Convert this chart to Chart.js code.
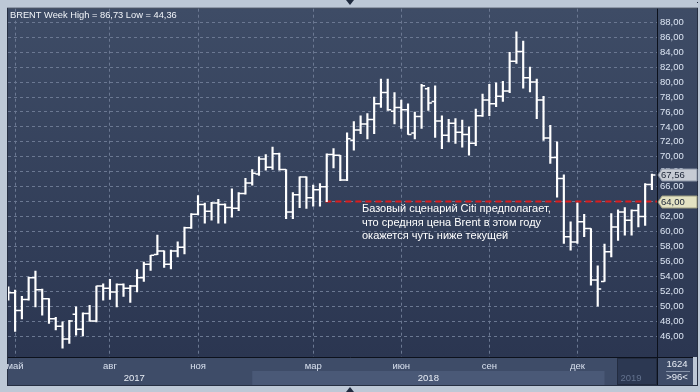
<!DOCTYPE html>
<html>
<head>
<meta charset="utf-8">
<script src="https://cdn.jsdelivr.net/npm/chart.js@4.4.1/dist/chart.umd.min.js"></script>
<style>
  html, body { margin: 0; padding: 0; background: #bdc8d6; }
  canvas { display: block; }
</style>
</head>
<body>
<canvas id="chart" width="700" height="392"></canvas>
<script>
// Weekly Brent OHLC, week 0 = 24.04.2017 ... week 95 = 18.02.2019
const opens = [
  52.0, 51.8, 49.4, 50.9, 53.8, 52.2, 51.0, 48.3, 47.3, 45.6,
  48.9, 46.9, 49.0, 48.0, 52.7, 52.4, 51.9, 52.9, 52.4, 52.7,
  53.8, 55.6, 56.9, 57.4, 55.6, 57.4, 57.9, 60.5, 62.3, 63.6,
  62.7, 63.8, 63.6, 63.2, 63.1, 65.1, 66.5, 67.7, 69.7, 68.6,
  70.4, 68.3, 62.6, 64.9, 67.3, 64.5, 65.6, 66.0, 70.3, 70.2,
  66.9, 72.2, 73.6, 74.4, 75.0, 77.1, 78.6, 76.1, 76.6, 76.3,
  73.2, 75.4, 79.1, 77.4, 74.8, 72.9, 74.5, 73.3, 73.0, 71.8,
  75.5, 77.6, 77.1, 78.1, 78.8, 82.8, 84.1, 80.6, 80.0, 77.6,
  72.5, 69.9, 67.1, 59.3, 58.6, 61.3, 60.4, 53.5, 53.3, 57.3,
  60.6, 62.6, 61.5, 62.8, 62.0, 66.3
];
const highs = [
  52.6, 52.15, 51.3, 53.9, 54.7, 52.3, 51.0, 48.5, 47.9, 48.1,
  49.9, 49.1, 50.1, 52.7, 53.0, 53.6, 53.0, 53.0, 52.8, 54.9,
  55.9, 56.8, 59.5, 57.4, 57.5, 58.6, 60.6, 62.4, 64.8, 63.8,
  63.9, 64.3, 63.7, 65.7, 65.2, 67.1, 68.3, 70.0, 70.3, 71.3,
  70.5, 68.3, 65.2, 67.3, 67.3, 66.2, 66.4, 70.4, 71.1, 70.2,
  73.2, 74.7, 75.5, 75.8, 78.0, 80.4, 80.4, 78.6, 77.6, 77.1,
  76.0, 79.7, 79.3, 79.5, 75.5, 75.0, 75.1, 74.9, 74.0, 76.4,
  78.4, 79.7, 79.9, 80.1, 84.0, 86.73, 85.5, 82.0, 80.4, 78.1,
  74.2, 72.0, 67.6, 61.3, 63.8, 62.3, 60.4, 55.4, 58.3, 62.4,
  62.9, 63.2, 62.9, 63.65, 66.4, 67.7
];
const lows = [
  50.8, 46.6, 48.3, 50.8, 49.9, 48.8, 47.7, 46.8, 44.36, 45.0,
  46.1, 46.0, 48.0, 47.9, 50.8, 50.9, 49.9, 51.3, 50.5, 51.9,
  53.3, 54.8, 56.9, 55.2, 55.0, 56.6, 57.0, 60.4, 62.2, 61.1,
  61.5, 61.1, 61.1, 61.9, 62.8, 65.0, 66.2, 67.5, 68.2, 68.3,
  68.2, 61.7, 61.7, 63.2, 63.1, 63.4, 63.4, 64.0, 68.5, 66.8,
  66.8, 70.9, 73.1, 72.4, 73.1, 76.6, 76.2, 74.4, 73.8, 73.0,
  72.4, 73.8, 76.2, 72.6, 71.1, 72.0, 71.8, 71.3, 70.2, 71.5,
  75.4, 75.5, 76.7, 77.4, 78.6, 82.5, 79.2, 78.7, 75.1, 72.2,
  69.1, 64.6, 58.4, 57.5, 58.4, 59.3, 52.8, 50.0, 53.3, 56.6,
  58.8, 59.5, 59.5, 60.6, 60.8, 65.6
];
const closes = [
  51.8, 49.4, 50.9, 53.8, 52.2, 51.0, 48.3, 47.3, 45.6, 48.0,
  46.9, 49.0, 48.0, 52.7, 52.4, 51.9, 52.9, 52.4, 52.7, 53.8,
  55.6, 56.8, 57.4, 55.6, 57.4, 57.9, 60.5, 62.3, 63.6, 62.7,
  63.8, 63.6, 63.2, 63.1, 65.1, 66.5, 67.8, 69.7, 68.6, 70.4,
  68.3, 62.6, 64.9, 67.3, 64.5, 65.6, 66.0, 70.3, 70.2, 66.9,
  72.4, 73.6, 74.4, 75.0, 77.1, 78.6, 76.3, 76.6, 76.3, 73.0,
  75.4, 79.5, 77.2, 74.8, 72.9, 74.5, 73.3, 73.0, 71.8, 75.5,
  77.6, 77.1, 78.1, 78.8, 82.8, 84.1, 80.6, 80.0, 77.6, 72.5,
  69.9, 67.1, 59.3, 58.6, 61.3, 60.4, 53.5, 52.3, 57.3, 60.6,
  62.6, 61.5, 62.8, 62.0, 66.3, 67.56
];

// axis labels
const monthTickIdx = [1, 15, 28, 45, 58, 71, 84];
const monthTickText = ['май', 'авг', 'ноя', 'мар', 'июн', 'сен', 'дек'];
const yearText = ['2017', '2018', '2019'];
const yearStartIdx = [0, 36, 88];
const priceTicks = [46, 48, 50, 52, 54, 56, 58, 60, 62, 64, 66, 68, 70, 72, 74, 76, 78, 80, 82, 84, 86, 88];

const lastPrice = 67.56;
const citiLevel = 64;
const citiFromIdx = 46.8;
const titleText = 'BRENT Week High = 86,73 Low = 44,36';
const noteLines = [
  'Базовый сценарий Citi предполагает,',
  'что средняя цена Brent в этом году',
  'окажется чуть ниже текущей'
];
const noteIdx = 52.2, noteValue = 62.55;
const barCount = '1624', visibleBars = '>96<';

const FONT = '"Liberation Sans", Arial, sans-serif';
const GRID = '#6b7892';
const fmt = v => v.toFixed(2).replace('.', ',');

Chart.defaults.font.family = FONT;

// backgrounds, year band
const framePlugin = {
  id: 'frame',
  beforeDraw(chart) {
    const { ctx, chartArea: a, scales: { x } } = chart;
    ctx.save();
    ctx.fillStyle = '#bdc8d6';
    ctx.fillRect(0, 0, chart.width, chart.height);

    const g = ctx.createLinearGradient(0, a.top, 0, a.bottom);
    g.addColorStop(0, '#3e4c66');
    g.addColorStop(1, '#2b3651');
    ctx.fillStyle = g;
    ctx.fillRect(a.left, a.top, 697 - a.left, a.bottom - a.top);

    // time axis band
    ctx.fillStyle = '#3e4c68';
    ctx.fillRect(a.left, a.bottom, 693 - a.left, 28);
    const x18 = x.getPixelForValue(yearStartIdx[1]);
    const x19 = x.getPixelForValue(yearStartIdx[2]);
    ctx.fillStyle = '#4a5977';
    ctx.fillRect(x18, a.bottom + 14, x19 - x18, 14);

    // 2019 scroll box
    ctx.fillStyle = '#2c3852';
    ctx.fillRect(617, a.bottom + 1, a.right - 617, 27);
    ctx.strokeStyle = '#232c40';
    ctx.lineWidth = 1;
    ctx.strokeRect(617.5, a.bottom + 1.5, a.right - 618, 26);

    // outer dark border
    ctx.strokeStyle = '#262f42';
    ctx.strokeRect(a.left - 0.5, a.top - 0.5, 697 - a.left + 1, a.bottom + 28 - a.top + 1);
    ctx.restore();
  }
};

// open / close ticks of each weekly bar
const ohlcPlugin = {
  id: 'ohlc',
  afterDatasetsDraw(chart) {
    const { ctx, chartArea: a, scales: { x, y } } = chart;
    ctx.save();
    ctx.beginPath();
    ctx.rect(a.left, a.top, a.right - a.left, a.bottom - a.top);
    ctx.clip();
    ctx.strokeStyle = '#ffffff';
    ctx.lineWidth = 1.5;
    ctx.beginPath();
    for (let i = 0; i < opens.length; i++) {
      const px = x.getPixelForValue(i);
      const yo = y.getPixelForValue(opens[i]);
      const yc = y.getPixelForValue(closes[i]);
      ctx.moveTo(px - 3.5, yo); ctx.lineTo(px, yo);
      ctx.moveTo(px, yc); ctx.lineTo(px + 3.5, yc);
    }
    ctx.stroke();
    ctx.restore();
  }
};

// texts, separators, price boxes
const overlayPlugin = {
  id: 'overlay',
  afterDraw(chart) {
    const { ctx, chartArea: a, scales: { x, y } } = chart;
    ctx.save();

    // separators
    ctx.strokeStyle = '#0c111c';
    ctx.lineWidth = 1;
    ctx.beginPath();
    ctx.moveTo(a.right + 0.5, a.top); ctx.lineTo(a.right + 0.5, a.bottom + 28);
    ctx.moveTo(a.left, a.bottom + 0.5); ctx.lineTo(693, a.bottom + 0.5);
    ctx.stroke();

    // title
    ctx.font = '9.3px ' + FONT;
    ctx.fillStyle = '#f2f5fa';
    ctx.textBaseline = 'alphabetic';
    ctx.textAlign = 'left';
    ctx.fillText(titleText, 10, 18);

    // note
    ctx.font = '11px ' + FONT;
    ctx.fillStyle = '#ffffff';
    const nx = x.getPixelForValue(noteIdx);
    const ny = y.getPixelForValue(noteValue);
    noteLines.forEach((t, i) => ctx.fillText(t, nx, ny + i * 13.4));

    // price boxes on the axis
    const box = (val, fill, edge) => {
      const cy = Math.round(y.getPixelForValue(val));
      const l = a.right + 1;
      ctx.beginPath();
      ctx.moveTo(l, cy);
      ctx.lineTo(l + 4, cy - 6);
      ctx.lineTo(697, cy - 6);
      ctx.lineTo(697, cy + 6);
      ctx.lineTo(l + 4, cy + 6);
      ctx.closePath();
      ctx.fillStyle = fill;
      ctx.fill();
      ctx.strokeStyle = edge;
      ctx.stroke();
      ctx.fillStyle = '#1b2436';
      ctx.font = '9.5px ' + FONT;
      ctx.textBaseline = 'middle';
      ctx.fillText(fmt(val), a.right + 4, cy + 0.5);
    };
    box(lastPrice, '#c6cbd4', '#8d97a8');
    box(citiLevel, '#e3e2c2', '#9c9c80');

    // years
    ctx.font = '9.5px ' + FONT;
    ctx.textAlign = 'center';
    ctx.textBaseline = 'middle';
    ctx.fillStyle = '#e8edf5';
    ctx.fillText(yearText[0], (x.getPixelForValue(yearStartIdx[0]) + x.getPixelForValue(yearStartIdx[1])) / 2 + 4, a.bottom + 21);
    ctx.fillText(yearText[1], (x.getPixelForValue(yearStartIdx[1]) + x.getPixelForValue(yearStartIdx[2])) / 2, a.bottom + 21);
    ctx.fillStyle = '#63728e';
    ctx.fillText(yearText[2], 631, a.bottom + 21);

    // bar count box
    ctx.fillStyle = '#e8edf5';
    ctx.fillText(barCount, 677, a.bottom + 7);
    ctx.fillText(visibleBars, 677, a.bottom + 20);
    ctx.strokeStyle = '#8592a8';
    ctx.beginPath();
    ctx.moveTo(666, a.bottom + 14.5); ctx.lineTo(690, a.bottom + 14.5);
    ctx.stroke();

    // scroll arrows in the frame
    ctx.fillStyle = '#1f2a3e';
    ctx.beginPath();
    ctx.moveTo(346, 0); ctx.lineTo(354, 0); ctx.lineTo(350, 5); ctx.closePath();
    ctx.fill();
    ctx.beginPath();
    ctx.moveTo(346, 392); ctx.lineTo(354, 392); ctx.lineTo(350, 387); ctx.closePath();
    ctx.fill();
    ctx.fillRect(697, 2, 1, 1);
    ctx.restore();
  }
};

new Chart(document.getElementById('chart'), {
  data: {
    datasets: [
      {
        type: 'bar',
        data: highs.map((h, i) => ({ x: i, y: [lows[i], h] })),
        backgroundColor: '#ffffff',
        borderWidth: 0,
        barThickness: 1.5
      },
      {
        type: 'line',
        data: [{ x: citiFromIdx, y: citiLevel }, { x: 95.75, y: citiLevel }],
        borderColor: '#e01b1b',
        borderWidth: 2,
        borderDash: [6, 4],
        pointRadius: 0
      }
    ]
  },
  options: {
    responsive: false,
    animation: false,
    layout: { padding: { left: 8, top: 8, right: 0, bottom: 7 } },
    plugins: { legend: { display: false }, tooltip: { enabled: false } },
    scales: {
      x: {
        type: 'linear',
        offset: false,
        min: -0.05,
        max: 95.75,
        afterBuildTicks: s => { s.ticks = monthTickIdx.map(v => ({ value: v })); },
        afterFit: s => { s.height = 28; },
        grid: { display: true, color: GRID, lineWidth: 1, drawTicks: false, offset: false },
        border: { display: false, dash: [3, 3] },
        ticks: {
          autoSkip: false,
          maxRotation: 0,
          padding: 4,
          color: '#d8e0ee',
          font: { size: 9.5 },
          callback: v => monthTickText[monthTickIdx.indexOf(v)]
        }
      },
      y: {
        position: 'right',
        min: 43.19,
        max: 89.83,
        afterBuildTicks: s => { s.ticks = priceTicks.map(v => ({ value: v })); },
        afterFit: s => { s.width = 43; },
        grid: { display: true, color: GRID, lineWidth: 1, drawTicks: false },
        border: { display: false, dash: [3, 3] },
        ticks: {
          padding: 3,
          color: '#dde6f4',
          font: { size: 9.5 },
          callback: v => fmt(v)
        }
      }
    }
  },
  plugins: [framePlugin, ohlcPlugin, overlayPlugin]
});
</script>
</body>
</html>
